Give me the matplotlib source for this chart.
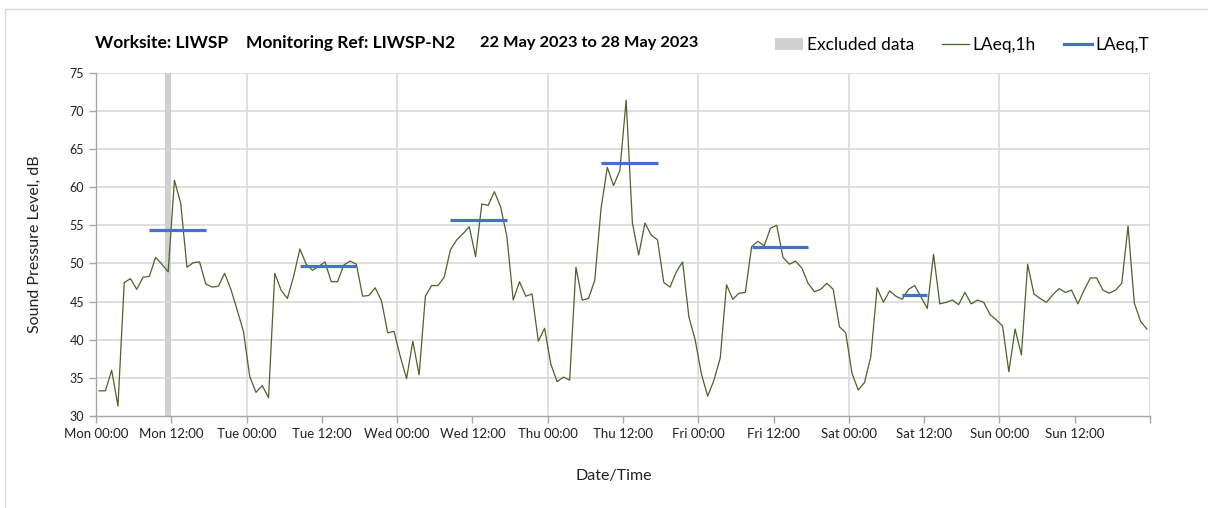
import matplotlib
matplotlib.use("Agg")
import matplotlib.pyplot as plt
from matplotlib.lines import Line2D
from matplotlib.patches import Patch, Rectangle

plt.rcParams["font.family"] = ["Lato", "DejaVu Sans"]

# hourly LAeq,1h values, Mon 00:00 to Sun 23:00 (22-28 May 2023)
laeq_1h = [
    33.3, 33.3, 36.0, 31.3, 47.5, 48.0, 46.6, 48.2, 48.3, 50.8, 49.9, 48.9,
    60.9, 57.9, 49.5, 50.1, 50.2, 47.3, 46.9, 47.0, 48.7, 46.6, 43.9, 41.1,
    35.2, 33.1, 34.0, 32.4, 48.7, 46.5, 45.4, 48.3, 51.9, 49.9, 49.1, 49.6,
    50.2, 47.6, 47.6, 49.8, 50.3, 49.9, 45.7, 45.8, 46.8, 45.1, 40.9, 41.1,
    37.8, 34.9, 39.8, 35.4, 45.7, 47.1, 47.1, 48.2, 51.8, 53.1, 53.9, 54.8,
    50.9, 57.8, 57.6, 59.4, 57.4, 53.5, 45.2, 47.6, 45.7, 46.0, 39.8, 41.5,
    36.8, 34.5, 35.1, 34.7, 49.5, 45.2, 45.4, 47.8, 57.2, 62.6, 60.2, 62.2,
    71.4, 55.3, 51.1, 55.3, 53.7, 53.1, 47.5, 46.9, 48.9, 50.2, 43.0, 40.0,
    35.5, 32.6, 34.7, 37.6, 47.2, 45.3, 46.1, 46.2, 52.2, 52.9, 52.3, 54.6,
    55.0, 50.8, 49.9, 50.3, 49.4, 47.4, 46.3, 46.6, 47.4, 46.6, 41.7, 40.9,
    35.6, 33.4, 34.4, 37.8, 46.8, 44.9, 46.4, 45.7, 45.3, 46.6, 47.1, 45.6,
    44.1, 51.2, 44.7, 44.9, 45.2, 44.6, 46.2, 44.7, 45.2, 44.9, 43.3, 42.6,
    41.8, 35.8, 41.4, 38.0, 49.9, 46.0, 45.4, 44.9, 45.9, 46.7, 46.2, 46.5,
    44.7, 46.5, 48.1, 48.1, 46.5, 46.1, 46.5, 47.4, 54.9, 44.8, 42.4, 41.4,
]

# LAeq,T over each daytime period (first hour, last hour, level)
period_start = [8, 32, 56, 80, 104, 128]
period_end = [17, 41, 65, 89, 113, 132]
period_level = [54.4, 49.7, 55.7, 63.1, 52.1, 45.8]

# excluded hour(s)
excluded_start = [11]
excluded_end = [12]

tick_hours = list(range(0, 169, 12))
tick_labels = ["Mon 00:00", "Mon 12:00", "Tue 00:00", "Tue 12:00", "Wed 00:00",
               "Wed 12:00", "Thu 00:00", "Thu 12:00", "Fri 00:00", "Fri 12:00",
               "Sat 00:00", "Sat 12:00", "Sun 00:00", "Sun 12:00", ""]

green = "#4f6228"
blue = "#4472c4"
grid_col = "#d9d9d9"
excl_col = "#d0d0d0"

fig = plt.figure(figsize=(12.08, 5.08), dpi=100)
ax = fig.add_axes([96 / 1208, 1 - 416 / 508, 1054 / 1208, 343.3 / 508])

# outer chart border (only top/left visible in crop)
fig.patches.append(Rectangle((5 / 1208, -0.1), 1.2, 1.1 - 9 / 508, transform=fig.transFigure,
                             fill=False, edgecolor="#d9d9d9", lw=1))

for s, e in zip(excluded_start, excluded_end):
    ax.axvspan(s, e, color=excl_col, lw=0, zorder=1)

hours = [h + 0.5 for h in range(len(laeq_1h))]
ax.plot(hours, laeq_1h, color=green, lw=0.9, zorder=3)

for s, e, lv in zip(period_start, period_end, period_level):
    ax.plot([s + 0.5, e + 0.5], [lv, lv], color=blue, lw=2.3, solid_capstyle="butt", zorder=4)

ax.set_xlim(0, 168)
ax.set_ylim(30, 75)
ax.set_yticks(range(30, 76, 5))
ax.set_xticks(tick_hours)
ax.set_xticklabels(tick_labels, fontsize=9.5, color="#222222")
ax.tick_params(axis="y", labelsize=9, labelcolor="#222222")
ax.tick_params(axis="both", direction="out", length=5, color="#a6a6a6", width=1)

for v in range(35, 76, 5):
    ax.axhline(v, color=grid_col, lw=1.2, zorder=0)
for h in range(24, 169, 24):
    ax.axvline(h, color=grid_col, lw=1.2, zorder=0)

for side in ["top", "right"]:
    ax.spines[side].set_visible(False)
for side in ["left", "bottom"]:
    ax.spines[side].set_color("#a6a6a6")
    ax.spines[side].set_linewidth(1)

ax.set_ylabel("Sound Pressure Level, dB", fontsize=11.5, color="#222222")
ax.yaxis.set_label_coords(-0.051, 0.5)
fig.text(614 / 1208, 1 - 476 / 508, "Date/Time", fontsize=11.5, ha="center", va="center",
         color="#222222")

fig.text(95 / 1208, 1 - 43 / 508, "Worksite: LIWSP", fontsize=12.5, fontweight="bold", va="center")
fig.text(246 / 1208, 1 - 43 / 508, "Monitoring Ref: LIWSP-N2", fontsize=12.5, fontweight="bold",
         va="center")
fig.text(480 / 1208, 1 - 43 / 508, "22 May 2023 to 28 May 2023", fontsize=11.8, fontweight="bold",
         va="center")

handles = [Patch(facecolor=excl_col, edgecolor="none"),
           Line2D([], [], color=green, lw=0.9),
           Line2D([], [], color=blue, lw=2.3)]
fig.legend(handles, ["Excluded data", "LAeq,1h", "LAeq,T"], loc="center right",
           bbox_to_anchor=(1161 / 1208, 1 - 45 / 508), ncol=3, frameon=False, fontsize=12.5,
           handlelength=1.6, handletextpad=0.2, columnspacing=1.6, borderpad=0.2)

fig.savefig("out.png", dpi=100)
plt.close(fig)
